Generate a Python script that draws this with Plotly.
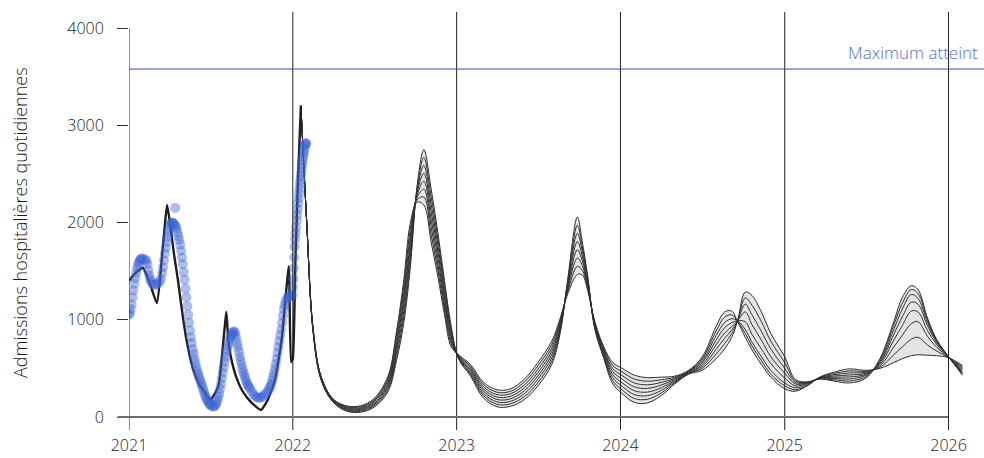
import plotly.graph_objects as go

# ---------------- data ----------------
obs_dates = ["2021-01-01","2021-01-03","2021-01-05","2021-01-07","2021-01-09","2021-01-11","2021-01-13","2021-01-15","2021-01-17",
             "2021-01-19","2021-01-21","2021-01-23","2021-01-25","2021-01-27","2021-01-29","2021-02-02","2021-02-06","2021-02-09",
             "2021-02-11","2021-02-13","2021-02-15","2021-02-17","2021-02-19","2021-02-22","2021-02-26","2021-03-02","2021-03-06",
             "2021-03-10","2021-03-13","2021-03-16","2021-03-18","2021-03-20","2021-03-22","2021-03-24","2021-03-26","2021-03-28",
             "2021-03-30","2021-04-01","2021-04-03","2021-04-05","2021-04-07","2021-04-09","2021-04-11","2021-04-13","2021-04-14",
             "2021-04-15","2021-04-17","2021-04-19","2021-04-21","2021-04-23","2021-04-25","2021-04-27","2021-04-29","2021-05-01",
             "2021-05-03","2021-05-05","2021-05-07","2021-05-09","2021-05-11","2021-05-13","2021-05-15","2021-05-17","2021-05-19",
             "2021-05-21","2021-05-23","2021-05-25","2021-05-27","2021-05-29","2021-05-31","2021-06-02","2021-06-04","2021-06-06",
             "2021-06-08","2021-06-10","2021-06-12","2021-06-14","2021-06-16","2021-06-18","2021-06-20","2021-06-22","2021-06-24",
             "2021-06-26","2021-06-28","2021-06-30","2021-07-02","2021-07-05","2021-07-08","2021-07-11","2021-07-13","2021-07-15",
             "2021-07-17","2021-07-19","2021-07-21","2021-07-23","2021-07-25","2021-07-27","2021-07-29","2021-07-31","2021-08-02",
             "2021-08-04","2021-08-06","2021-08-08","2021-08-10","2021-08-12","2021-08-14","2021-08-16","2021-08-18","2021-08-20",
             "2021-08-22","2021-08-24","2021-08-26","2021-08-28","2021-08-30","2021-09-01","2021-09-03","2021-09-05","2021-09-07",
             "2021-09-09","2021-09-11","2021-09-13","2021-09-15","2021-09-17","2021-09-19","2021-09-21","2021-09-23","2021-09-25",
             "2021-09-28","2021-10-02","2021-10-06","2021-10-10","2021-10-14","2021-10-18","2021-10-22","2021-10-26","2021-10-30",
             "2021-11-03","2021-11-07","2021-11-10","2021-11-12","2021-11-14","2021-11-16","2021-11-18","2021-11-20","2021-11-22",
             "2021-11-24","2021-11-26","2021-11-28","2021-11-30","2021-12-02","2021-12-04","2021-12-06","2021-12-08","2021-12-10",
             "2021-12-12","2021-12-14","2021-12-16","2021-12-19","2021-12-22","2021-12-25","2021-12-28","2021-12-31","2022-01-01",
             "2022-01-02","2022-01-03","2022-01-04","2022-01-05","2022-01-06","2022-01-07","2022-01-08","2022-01-10","2022-01-11",
             "2022-01-12","2022-01-13","2022-01-14","2022-01-15","2022-01-16","2022-01-17","2022-01-18","2022-01-19","2022-01-20",
             "2022-01-21","2022-01-22","2022-01-23","2022-01-24","2022-01-25","2022-01-26","2022-01-27","2022-01-28","2022-01-29",
             "2022-01-30","2022-01-31"]
obs_values = [1050,1070,1110,1160,1230,1300,1370,1430,1480,
              1530,1565,1590,1610,1625,1630,1625,1620,1605,
              1570,1510,1460,1420,1395,1370,1360,1360,1370,
              1390,1420,1480,1540,1610,1680,1740,1800,1850,
              1900,1945,1980,1995,2000,1995,1990,1975,2150,
              1960,1940,1900,1860,1820,1770,1710,1640,1570,
              1490,1410,1320,1230,1140,1050,970,890,820,
              760,700,650,600,555,510,475,445,415,
              385,360,335,305,275,245,220,195,175,
              160,145,130,120,110,105,112,125,145,
              170,205,245,290,340,395,455,510,565,
              615,660,700,740,775,805,830,855,870,
              880,875,850,810,760,720,670,620,575,
              535,495,460,430,400,370,345,325,310,
              290,260,230,210,200,195,200,210,230,
              250,270,295,315,340,375,410,450,495,
              545,600,660,720,780,840,900,970,1040,
              1110,1150,1190,1215,1235,1240,1250,1255,1330,
              1420,1530,1640,1750,1830,1890,1950,2020,2080,
              2140,2200,2250,2300,2350,2400,2440,2480,2520,
              2560,2600,2640,2670,2700,2730,2760,2790,2810,
              2815,2810]

fit_dates = ["2021-01-01","2021-01-15","2021-02-01","2021-02-16","2021-03-04","2021-03-27","2021-04-05","2021-04-12",
             "2021-04-20","2021-04-26","2021-05-02","2021-05-08","2021-05-15","2021-05-22","2021-05-30","2021-06-08",
             "2021-06-20","2021-07-01","2021-07-10","2021-07-20","2021-08-06","2021-08-10","2021-08-15","2021-08-22",
             "2021-08-28","2021-09-08","2021-09-20","2021-10-05","2021-10-22","2021-11-06","2021-11-22","2021-12-07",
             "2021-12-23","2021-12-28","2022-01-01","2022-01-07","2022-01-13","2022-01-19"]
fit_values = [1400,1480,1535,1380,1172,2180,1900,1650,
              1410,1200,1000,820,655,520,410,320,
              245,175,230,330,1080,800,640,500,
              410,290,205,130,72,175,380,790,
              1550,565,600,1650,2500,3200]

proj_dates = ["2022-01-19","2022-02-01","2022-02-15","2022-03-05","2022-04-01","2022-05-01","2022-06-01","2022-07-01","2022-08-01","2022-08-20",
              "2022-09-05","2022-09-20","2022-10-05","2022-10-20","2022-11-05","2022-11-20","2022-12-05","2022-12-20","2023-01-05","2023-02-01",
              "2023-03-01","2023-04-01","2023-05-01","2023-06-01","2023-07-01","2023-08-01","2023-08-20","2023-09-05","2023-09-27","2023-10-08",
              "2023-10-20","2023-11-05","2023-11-25","2023-12-15","2024-01-05","2024-02-01","2024-03-01","2024-04-01","2024-05-01","2024-06-01",
              "2024-07-01","2024-08-01","2024-08-20","2024-09-05","2024-09-18","2024-10-05","2024-10-20","2024-11-10","2024-12-01","2025-01-01",
              "2025-01-25","2025-02-20","2025-03-20","2025-04-20","2025-05-25","2025-07-01","2025-08-01","2025-09-01","2025-09-20","2025-10-10",
              "2025-10-25","2025-11-15","2025-12-05","2026-01-01","2026-02-01"]

scenario_1 = [3200,2000,920,420,185,115,115,190,420,880,
              1400,2000,2210,2180,1800,1450,1050,720,640,540,
              360,280,290,390,560,780,1020,1260,1465,1460,
              1300,980,720,560,500,430,405,410,420,480,
              617,930,1080,1090,980,820,690,540,410,290,
              265,320,410,460,495,480,500,560,600,630,
              640,635,630,610,530]
scenario_2 = [3200,2000,914,414,180,107,106,177,397,837,
              1337,1936,2234,2261,1879,1514,1100,750,634,523,
              337,255,264,360,526,746,999,1280,1550,1509,
              1321,969,703,529,463,390,368,383,409,474,
              597,883,1026,1050,985,860,730,580,440,320,
              280,325,407,447,474,470,510,640,720,800,
              820,740,680,612,515]
scenario_3 = [3200,2000,909,409,175,99,96,164,374,794,
              1274,1871,2259,2343,1957,1579,1150,780,629,506,
              314,230,239,330,491,711,977,1300,1634,1557,
              1343,957,686,497,426,350,331,356,397,469,
              578,836,971,1010,990,900,770,620,480,350,
              300,335,404,434,453,460,525,720,840,960,
              980,830,720,614,500]
scenario_4 = [3200,2000,903,403,170,91,87,151,351,751,
              1211,1807,2283,2424,2036,1643,1200,810,623,489,
              291,205,213,300,457,677,956,1320,1719,1606,
              1364,946,669,466,389,310,294,329,386,463,
              558,789,917,970,990,980,850,700,550,400,
              320,345,401,421,432,450,540,790,940,1090,
              1080,890,750,616,485]
scenario_5 = [3200,2000,897,397,165,84,78,139,329,709,
              1149,1743,2307,2506,2114,1707,1250,840,617,471,
              269,180,187,270,423,643,934,1340,1803,1654,
              1386,934,651,434,351,270,256,301,374,457,
              539,741,863,930,990,1080,950,790,620,450,
              340,350,398,409,412,440,555,850,1030,1180,
              1160,940,770,617,470]
scenario_6 = [3200,2000,891,391,160,76,69,126,306,666,
              1086,1679,2331,2587,2193,1771,1300,870,611,454,
              246,155,161,240,389,609,913,1360,1888,1703,
              1407,923,634,403,314,230,219,274,363,451,
              519,694,809,895,990,1160,1050,880,700,500,
              355,355,395,396,391,430,570,900,1110,1260,
              1220,975,785,618,455]
scenario_7 = [3200,2000,886,386,155,68,59,113,283,623,
              1023,1614,2356,2669,2271,1836,1350,900,606,437,
              223,130,136,210,354,574,891,1380,1972,1751,
              1429,911,617,371,277,190,182,247,351,446,
              500,647,754,860,990,1225,1150,980,780,560,
              370,358,392,383,370,415,585,945,1170,1310,
              1270,1000,795,619,440]
scenario_8 = [3200,2000,880,380,150,60,50,100,260,580,
              960,1550,2380,2750,2350,1900,1400,930,600,420,
              200,105,110,180,320,540,870,1400,2057,1800,
              1450,900,600,340,240,150,145,220,340,440,
              480,600,700,820,990,1285,1250,1080,860,617,
              385,360,390,370,350,400,600,980,1230,1350,
              1310,1020,800,620,430]
scenarios = [scenario_1, scenario_2, scenario_3, scenario_4,
             scenario_5, scenario_6, scenario_7, scenario_8]

year_ticks = ["2021-01-01", "2022-01-01", "2023-01-01", "2024-01-01", "2025-01-01", "2026-01-01"]
year_labels = ["2021", "2022", "2023", "2024", "2025", "2026"]
y_ticks = [0, 1000, 2000, 3000, 4000]
max_reached = 3578

# ---------------- figure ----------------
FONT = "Open Sans"
WEIGHT = 300
TXT = "#1c1c1c"

X_RANGE = ["2021-01-01", "2026-03-21"]
Y_RANGE = [-133.7, 4164.5]

fig = go.Figure()

for i, s in enumerate(scenarios):
    fig.add_trace(go.Scatter(
        x=proj_dates, y=s, mode="lines",
        line=dict(color="#2f2f2f", width=1, shape="spline", smoothing=1.0),
        fill=None if i == 0 else "tonexty",
        fillcolor="rgba(205,205,205,0.55)",
        hoverinfo="skip", showlegend=False))

fig.add_trace(go.Scatter(
    x=fit_dates, y=fit_values, mode="lines",
    line=dict(color="#1e1e1e", width=2.4, shape="spline", smoothing=0.4),
    hoverinfo="skip", showlegend=False))

fig.add_trace(go.Scatter(
    x=obs_dates, y=obs_values, mode="markers",
    marker=dict(color="rgba(59,99,211,0.42)", size=10, line=dict(width=0)),
    hoverinfo="skip", showlegend=False))

shapes = []
for i, d in enumerate(year_ticks):
    shapes.append(dict(type="line", xref="x", yref="paper",
                       x0=d, x1=d, y0=0, y1=1 if i > 0 else (4000 - Y_RANGE[0]) / (Y_RANGE[1] - Y_RANGE[0]),
                       line=dict(color="#222222", width=1), layer="above"))
shapes.append(dict(type="line", xref="paper", yref="y",
                   x0=-11 / 855, x1=(948 - 129) / 855, y0=0, y1=0,
                   line=dict(color="#6e6e6e", width=2), layer="above"))
shapes.append(dict(type="line", xref="paper", yref="y",
                   x0=0, x1=1, y0=max_reached, y1=max_reached,
                   line=dict(color="#34509f", width=1), layer="above"))

annotations = [
    dict(text="Maximum atteint", xref="paper", yref="y", x=1, y=max_reached,
         xanchor="right", yanchor="bottom", xshift=-4, yshift=3, showarrow=False,
         font=dict(family=FONT, size=17, color="#4f70d8", weight=WEIGHT)),
    dict(text="Admissions hospitalières quotidiennes", xref="paper", yref="paper",
         x=(20 - 129) / 855, y=(430 - 223) / 418, textangle=-90,
         xanchor="center", yanchor="middle", showarrow=False,
         font=dict(family=FONT, size=18, color=TXT, weight=WEIGHT)),
]

fig.update_layout(
    width=984, height=458,
    margin=dict(l=129, r=0, t=12, b=28),
    paper_bgcolor="white", plot_bgcolor="white",
    showlegend=False,
    shapes=shapes, annotations=annotations,
    font=dict(family=FONT, size=16, color=TXT, weight=WEIGHT),
    xaxis=dict(type="date", range=X_RANGE, tickvals=year_ticks, ticktext=year_labels,
               showgrid=False, zeroline=False, showline=False, ticks="",
               ticklabelstandoff=4, tickfont=dict(family=FONT, size=16, color=TXT, weight=WEIGHT)),
    yaxis=dict(range=Y_RANGE, tickvals=y_ticks, ticktext=[str(v) for v in y_ticks],
               showgrid=False, zeroline=False, showline=False,
               ticks="outside", ticklen=11, tickcolor="#333333", tickwidth=1,
               ticklabelstandoff=10, tickfont=dict(family=FONT, size=16, color=TXT, weight=WEIGHT)),
)

fig.write_html("out.html")
